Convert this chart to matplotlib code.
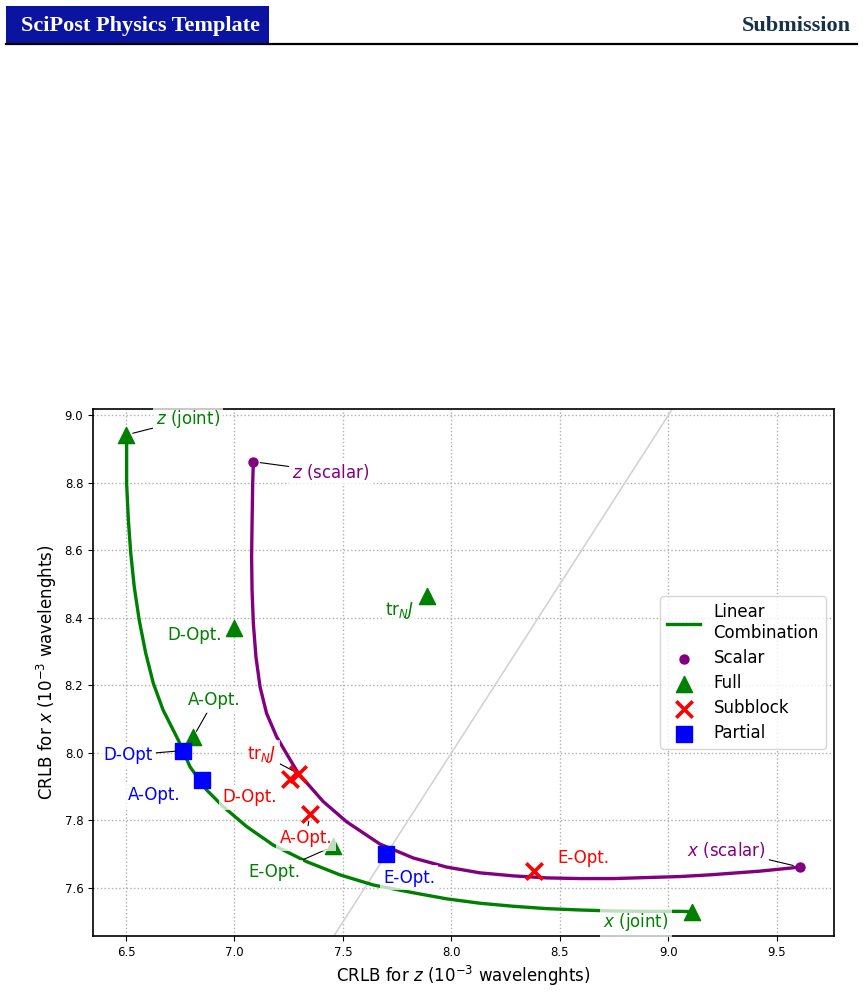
import numpy as np
import matplotlib
matplotlib.use('Agg')
import matplotlib.pyplot as plt
from matplotlib.patches import Rectangle
from matplotlib.lines import Line2D

# linear combination curves
joint_x = [6.500, 6.503, 6.503, 6.511, 6.522, 6.538, 6.561, 6.591, 6.626, 6.671,
           6.741, 6.795, 6.872, 6.948, 7.056, 7.179, 7.333, 7.486, 7.640, 7.824,
           7.978, 8.131, 8.285, 8.439, 8.592, 8.746, 8.900, 9.053, 9.110]
joint_y = [8.941, 8.926, 8.798, 8.689, 8.591, 8.492, 8.393, 8.295, 8.206, 8.127,
           8.038, 7.959, 7.890, 7.841, 7.782, 7.727, 7.678, 7.639, 7.609, 7.586,
           7.568, 7.555, 7.546, 7.539, 7.535, 7.532, 7.531, 7.531, 7.530]
scal_x = [7.087, 7.084, 7.081, 7.079, 7.081, 7.087, 7.099, 7.118, 7.148, 7.194,
          7.248, 7.294, 7.409, 7.517, 7.671, 7.824, 7.978, 8.131, 8.285,
          8.439, 8.592, 8.746, 8.900, 9.053, 9.191, 9.422, 9.606]
scal_y = [8.862, 8.798, 8.679, 8.580, 8.482, 8.383, 8.284, 8.195, 8.117, 8.048,
          7.989, 7.940, 7.856, 7.796, 7.730, 7.689, 7.662, 7.645, 7.636,
          7.630, 7.628, 7.628, 7.631, 7.634, 7.639, 7.650, 7.662]

# scalar endpoints
scalar_x = [7.087, 9.606]
scalar_y = [8.862, 7.662]
# full fisher matrix criteria: z joint, D, trNJ, A, E, x joint
full_x = [6.500, 7.000, 7.887, 6.809, 7.454, 9.110]
full_y = [8.941, 8.369, 8.464, 8.046, 7.723, 7.530]
# subblock: trNJ, D, A, E
sub_x = [7.293, 7.256, 7.348, 8.380]
sub_y = [7.939, 7.924, 7.818, 7.650]
# partial: D, A, E
part_x = [6.763, 6.850, 7.698]
part_y = [8.007, 7.921, 7.702]

W, H = 863, 996
fig = plt.figure(figsize=(W/100, H/100), dpi=100)

# page header
fig.add_artist(Rectangle((6/W, 1-43/H), 263/W, 37/H, transform=fig.transFigure,
                         facecolor='#0a14a0', edgecolor='none'))
fig.text(21/W, 1-31/H, 'SciPost Physics Template', color='white', fontsize=16,
         family='Liberation Serif', weight='bold', va='baseline', ha='left')
fig.text(851/W, 1-31/H, 'Submission', color='#15324a', fontsize=16,
         family='Liberation Serif', weight='bold', va='baseline', ha='right')
fig.add_artist(Line2D([6/W, 857/W], [1-44.5/H, 1-44.5/H], transform=fig.transFigure,
                      color='black', lw=1.6))

ax = fig.add_axes([93/W, 60/H, (834-93)/W, (936-409)/H])
ax.grid(True, linestyle=':', color='#b0b0b0', lw=1)
ax.set_axisbelow(True)
ax.axline((7.5, 7.5), slope=1, color='#d3d3d3', lw=1.2, zorder=1)

ax.plot(joint_x, joint_y, color='green', lw=2.4, zorder=2, solid_joinstyle='round',
        label='Linear\nCombination')
ax.plot(scal_x, scal_y, color='purple', lw=2.4, zorder=2, solid_joinstyle='round')
ax.scatter(scalar_x, scalar_y, color='purple', s=42, zorder=4, label='Scalar')
ax.scatter(full_x, full_y, color='green', marker='^', s=135, zorder=4, label='Full')
ax.scatter(sub_x, sub_y, color='red', marker='x', s=140, lw=2.6, zorder=4, label='Subblock')
ax.scatter(part_x, part_y, color='blue', marker='s', s=140, zorder=4, label='Partial')

box = dict(boxstyle='square,pad=0.2', facecolor='white', edgecolor='none', alpha=0.75)
line = dict(arrowstyle='-', color='black', lw=0.8, shrinkA=0, shrinkB=5)


def note(txt, xy, xytext, color, arrow=True):
    ax.annotate(txt, xy=xy, xytext=xytext, color=color, fontsize=12, ha='center',
                va='center', bbox=box, arrowprops=line if arrow else None, zorder=5)


note('$z$ (joint)', (full_x[0], full_y[0]), (6.786, 8.988), 'green')
note('D-Opt.', (full_x[1], full_y[1]), (6.818, 8.348), 'green', False)
note('tr$_N J$', (full_x[2], full_y[2]), (7.763, 8.422), 'green', False)
note('A-Opt.', (full_x[3], full_y[3]), (6.906, 8.156), 'green')
note('E-Opt.', (full_x[4], full_y[4]), (7.182, 7.646), 'green')
note('$x$ (joint)', (full_x[5], full_y[5]), (8.850, 7.498), 'green', False)
note('$z$ (scalar)', (scalar_x[0], scalar_y[0]), (7.445, 8.831), 'purple')
note('$x$ (scalar)', (scalar_x[1], scalar_y[1]), (9.265, 7.714), 'purple')
note('tr$_N J$', (sub_x[0], sub_y[0]), (7.127, 7.996), 'red')
note('D-Opt.', (sub_x[1], sub_y[1]), (7.071, 7.868), 'red', False)
note('A-Opt.', (sub_x[2], sub_y[2]), (7.329, 7.747), 'red')
note('E-Opt.', (sub_x[3], sub_y[3]), (8.606, 7.690), 'red', False)
note('D-Opt', (part_x[0], part_y[0]), (6.509, 7.993), 'blue')
note('A-Opt.', (part_x[1], part_y[1]), (6.629, 7.874), 'blue', False)
note('E-Opt.', (part_x[2], part_y[2]), (7.804, 7.631), 'blue', False)

ax.set_xlim(6.348, 9.763)
ax.set_ylim(7.458, 9.018)
ax.set_xticks([6.5, 7.0, 7.5, 8.0, 8.5, 9.0, 9.5])
ax.set_yticks([7.6, 7.8, 8.0, 8.2, 8.4, 8.6, 8.8, 9.0])
ax.tick_params(labelsize=8.5)
for s in ax.spines.values():
    s.set_linewidth(1.2)
ax.set_xlabel('CRLB for $z$ ($10^{-3}$ wavelenghts)', fontsize=12)
ax.set_ylabel('CRLB for $x$ ($10^{-3}$ wavelenghts)', fontsize=12)
ax.legend(loc='center right', fontsize=12, handlelength=2, labelspacing=0.42)

fig.savefig('out.png', dpi=100)
